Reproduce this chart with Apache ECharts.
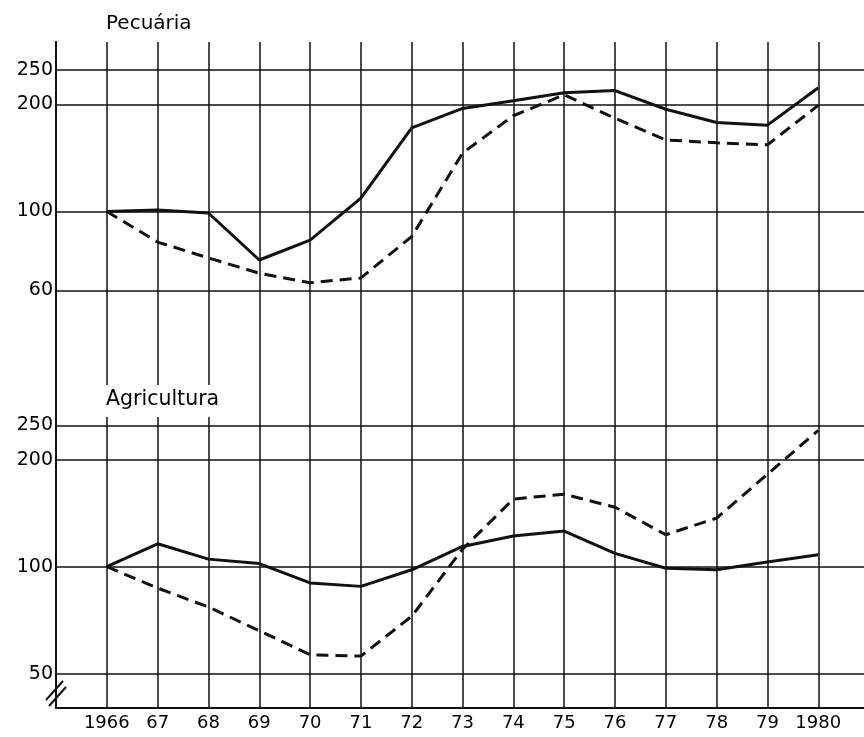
<!DOCTYPE html>
<html>
<head>
<meta charset="utf-8">
<script src="https://cdn.jsdelivr.net/npm/echarts@6/dist/echarts.min.js"></script>
<style>
  html, body { margin: 0; background: #fff; }
  #chart { width: 864px; height: 737px; }
</style>
</head>
<body>
<div id="chart"></div>
<script>
const years = [1966, 1967, 1968, 1969, 1970, 1971, 1972, 1973, 1974, 1975, 1976, 1977, 1978, 1979, 1980]
const yearLabels = ['1966', '67', '68', '69', '70', '71', '72', '73', '74', '75', '76', '77', '78', '79', '1980']
// Pecuária (painel de cima)
const pecuariaSolid = [100, 101, 99, 73, 83, 109, 172, 195, 205, 216, 219, 194, 178, 175, 223]
const pecuariaDashed = [100, 82, 74, 67, 63, 65, 85, 146, 186, 213, 183, 159, 156, 154, 199]
// Agricultura (painel de baixo)
const agriSolid = [100, 116, 105, 102, 90, 88, 98, 114, 122, 126, 109, 99, 98, 103, 108]
const agriDashed = [100, 87, 77, 66, 56.5, 56, 72.5, 112, 155, 160, 147, 123, 137, 182, 242]
const topTicks = [60, 100, 200, 250]
const bottomTicks = [50, 100, 200, 250]

const ink = '#111'
const font = 'DejaVu Sans'

const pairs = vals => years.map((y, i) => [y, vals[i]])

const yAxisCommon = {
  type: 'log',
  position: 'left',
  axisLine: { show: true, lineStyle: { color: ink, width: 2 } },
  axisTick: { show: false },
  axisLabel: { color: '#000', fontSize: 19, fontFamily: font, margin: 3 },
  splitLine: { show: true, lineStyle: { color: ink, width: 1.5 } }
}

const option = {
  animation: false,
  title: [
    { text: 'Pecuária', left: 101, top: 9, textStyle: { color: '#000', fontSize: 20, fontWeight: 'normal', fontFamily: font } },
    { text: 'Agricultura', left: 104, top: 385, backgroundColor: '#fff', padding: [4, 2, 7, 2],
      textStyle: { color: '#000', fontSize: 20.5, fontWeight: 'normal', fontFamily: font } }
  ],
  grid: { left: 56, right: 0, top: 42, bottom: 29 },
  xAxis: {
    type: 'value',
    min: 1965,
    max: 1980.9,
    axisLine: { show: true, lineStyle: { color: ink, width: 2 } },
    axisTick: { show: false, customValues: years },
    axisLabel: {
      customValues: years,
      color: '#000', fontSize: 18, fontFamily: font, margin: 6,
      formatter: v => yearLabels[years.indexOf(v)] || ''
    },
    splitLine: { show: true, lineStyle: { color: ink, width: 1.5 } }
  },
  yAxis: [
    Object.assign({}, yAxisCommon, {
      min: 4, max: 300,
      axisTick: { show: false, customValues: topTicks },
      axisLabel: Object.assign({}, yAxisCommon.axisLabel, { customValues: topTicks })
    }),
    Object.assign({}, yAxisCommon, {
      min: 40, max: 3000,
      axisTick: { show: false, customValues: bottomTicks },
      axisLabel: Object.assign({}, yAxisCommon.axisLabel, { customValues: bottomTicks })
    })
  ],
  series: [
    { type: 'line', yAxisIndex: 0, data: pairs(pecuariaSolid), symbol: 'none',
      lineStyle: { color: ink, width: 3 } },
    { type: 'line', yAxisIndex: 0, data: pairs(pecuariaDashed), symbol: 'none',
      lineStyle: { color: ink, width: 3, type: [12, 7] } },
    { type: 'line', yAxisIndex: 1, data: pairs(agriSolid), symbol: 'none',
      lineStyle: { color: ink, width: 3 } },
    { type: 'line', yAxisIndex: 1, data: pairs(agriDashed), symbol: 'none',
      lineStyle: { color: ink, width: 3, type: [12, 7] } }
  ],
  graphic: [
    // marca de quebra do eixo
    { type: 'line', shape: { x1: 46, y1: 700, x2: 63, y2: 681 }, style: { stroke: ink, lineWidth: 2 } },
    { type: 'line', shape: { x1: 49, y1: 706, x2: 66, y2: 687 }, style: { stroke: ink, lineWidth: 2 } }
  ]
}

const myChart = echarts.init(document.getElementById('chart'))
myChart.setOption(option)
</script>
</body>
</html>
